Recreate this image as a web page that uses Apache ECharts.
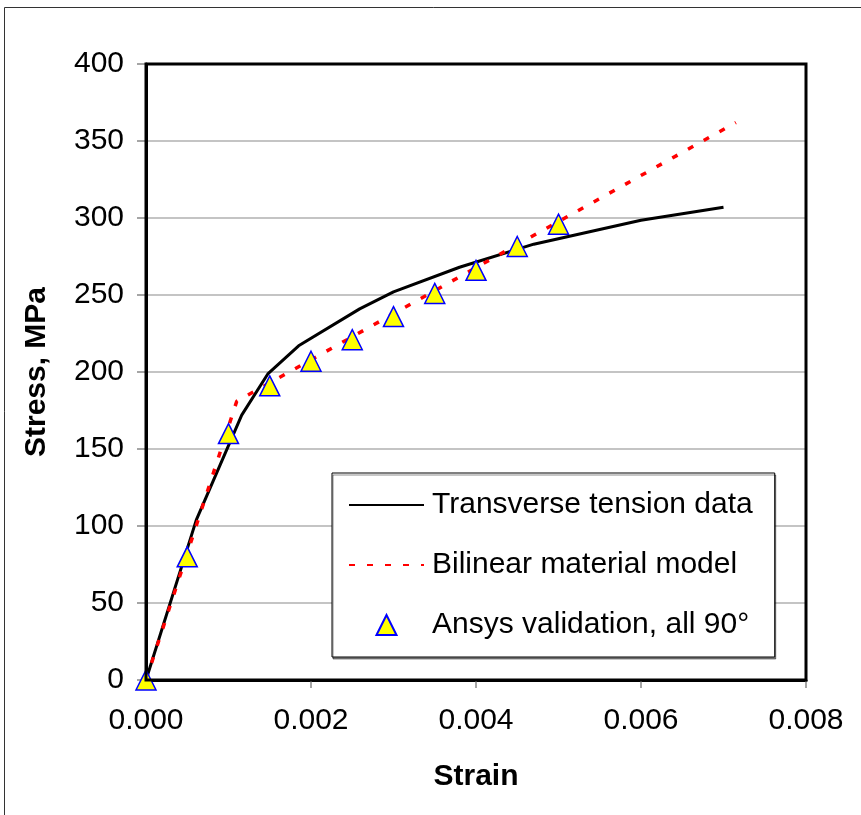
<!DOCTYPE html>
<html>
<head>
<meta charset="utf-8">
<script src="https://cdn.jsdelivr.net/npm/echarts@6/dist/echarts.min.js"></script>
<style>
html,body{margin:0;padding:0;background:#fff;}
#chart{width:861px;height:815px;}
</style>
</head>
<body>
<div id="chart"></div>
<script>
// Transverse tension test data (strain, stress MPa)
const tensionStrain = [0, 0.00061, 0.00116, 0.00148, 0.00185, 0.00259, 0.0030, 0.0038, 0.0047, 0.0060, 0.0070];
const tensionStress = [0, 104, 172, 199, 217, 241, 252, 268, 283, 298.5, 307];
// Bilinear material model
const bilinearStrain = [0, 0.0011, 0.00715];
const bilinearStress = [0, 181, 362];
// Ansys validation points
const ansysStrain = [0, 0.0005, 0.001, 0.0015, 0.002, 0.0025, 0.003, 0.0035, 0.004, 0.0045, 0.005];
const ansysStress = [0, 80, 160, 191, 207, 221, 236, 251, 266, 281.5, 296];

const xTicks = { min: 0, max: 0.008, interval: 0.002 };
const yTicks = { min: 0, max: 400, interval: 50 };

const zip = (a, b) => a.map((v, i) => [v, b[i]]);

const chart = echarts.init(document.getElementById('chart'), null, { renderer: 'canvas' });
const font = 'Liberation Sans, Arial, sans-serif';

chart.setOption({
  backgroundColor: '#fff',
  animation: false,
  graphic: [{
    type: 'rect',
    shape: { x: 4.5, y: 7.5, width: 900, height: 900 },
    style: { fill: 'none', stroke: '#333', lineWidth: 1 },
    z: -10
  }],
  grid: {
    left: 146, top: 64, right: 55, bottom: 135, z: 10,
    show: true, borderColor: '#000', borderWidth: 3, backgroundColor: 'transparent'
  },
  xAxis: {
    type: 'value',
    min: xTicks.min, max: xTicks.max, interval: xTicks.interval,
    name: 'Strain', nameLocation: 'middle', nameGap: 82,
    nameTextStyle: { fontFamily: font, fontSize: 30, fontWeight: 'bold', color: '#000' },
    axisLine: { show: true, onZero: false, lineStyle: { color: '#000', width: 3 } },
    axisTick: { show: true, length: 8, lineStyle: { color: '#888', width: 1.5 } },
    axisLabel: { margin: 26, fontFamily: font, fontSize: 30, color: '#000',
      formatter: v => v.toFixed(3) },
    splitLine: { show: false }
  },
  yAxis: {
    type: 'value',
    min: yTicks.min, max: yTicks.max, interval: yTicks.interval,
    name: 'Stress, MPa', nameLocation: 'middle', nameGap: 94, nameRotate: 90,
    nameTextStyle: { fontFamily: font, fontSize: 30, fontWeight: 'bold', color: '#000' },
    axisLine: { show: true, onZero: false, lineStyle: { color: '#000', width: 3 } },
    axisTick: { show: true, length: 9, lineStyle: { color: '#888', width: 1.5 } },
    axisLabel: { margin: 22, fontFamily: font, fontSize: 30, color: '#000' },
    splitLine: { show: true, lineStyle: { color: '#b0b0b0', width: 1.5 } }
  },
  legend: {
    left: 332, top: 473, z: 20,
    orient: 'vertical',
    padding: [17, 22, 17, 16],
    itemWidth: 75, itemHeight: 20, itemGap: 30,
    backgroundColor: '#fff',
    borderColor: '#000', borderWidth: 1,
    shadowColor: 'rgba(0,0,0,0.45)', shadowOffsetX: 1, shadowOffsetY: 2, shadowBlur: 0,
    textStyle: { fontFamily: font, fontSize: 30, color: '#000', lineHeight: 30, padding: [0, 0, 0, 3] },
    data: [
      { name: 'Transverse tension data', itemStyle: { opacity: 0 } },
      { name: 'Bilinear material model', itemStyle: { opacity: 0 } },
      { name: 'Ansys validation, all 90°',
        icon: 'path://M0,0 M75,20 M27.5,20 L37.5,0 L47.5,20 Z' }
    ]
  },
  series: [
    {
      name: 'Transverse tension data', type: 'line',
      data: zip(tensionStrain, tensionStress),
      symbol: 'none', lineStyle: { color: '#000', width: 3 }, itemStyle: { color: '#000' }, z: 2
    },
    {
      name: 'Bilinear material model', type: 'line',
      data: zip(bilinearStrain, bilinearStress),
      symbol: 'none', lineStyle: { color: '#ff0000', width: 3.5, type: [6, 12] }, itemStyle: { color: '#ff0000' }, z: 3
    },
    {
      name: 'Ansys validation, all 90°', type: 'scatter',
      data: zip(ansysStrain, ansysStress),
      symbol: 'triangle', symbolSize: 20, symbolKeepAspect: true,
      itemStyle: { color: '#ffff00', borderColor: '#0000ff', borderWidth: 1.5, opacity: 1 }, z: 4
    }
  ]
});
</script>
</body>
</html>
